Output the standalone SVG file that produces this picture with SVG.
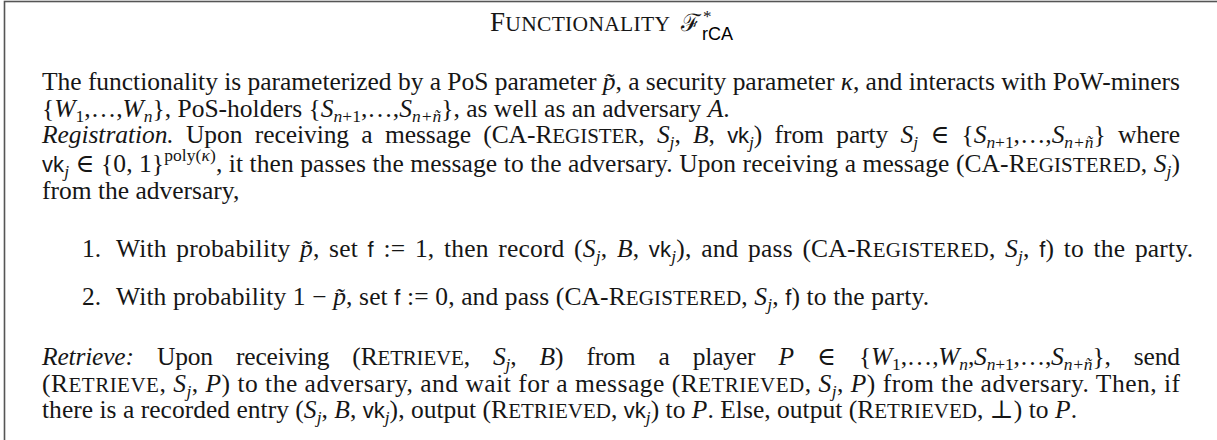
<svg xmlns="http://www.w3.org/2000/svg" width="1217" height="440" viewBox="0 0 1217 440">
<style>
.m{font-family:"Liberation Serif","DejaVu Serif",serif;font-size:25.5px;fill:#161616}
.it{font-style:italic}
.sc{font-size:21px}
.sf{font-family:"Liberation Sans","DejaVu Sans",sans-serif;font-size:22px}
.s{font-size:17.5px}
.ttl{font-family:"Liberation Serif","DejaVu Serif",serif;font-size:27px;fill:#161616}
.tsc{font-size:21.5px}
</style>
<rect x="4.5" y="1.5" width="1300" height="500" fill="#fff" stroke="#555" stroke-width="1.6"/>
<g id="title">
<text class="ttl" x="490" y="31" textLength="180" lengthAdjust="spacing">F<tspan class="tsc">UNCTIONALITY</tspan></text>
<text class="ttl" x="681" y="31" style="font-size:24px">ℱ</text>
<text class="ttl" x="703" y="22" style="font-size:17px">*</text>
<text class="sf" x="702" y="40" style="font-size:18px">rCA</text>
</g>
<g id="intro">
<text class="m" x="42" y="90" textLength="1138" lengthAdjust="spacing">The functionality is parameterized by a PoS parameter <tspan class="it">p̃</tspan>, a security parameter <tspan class="it">κ</tspan>, and interacts with PoW-miners</text>
<text class="m" x="42" y="116.5">{<tspan class="it">W</tspan><tspan class="s" dy="5">1</tspan><tspan dy="-5">,…,</tspan><tspan class="it">W</tspan><tspan class="s it" dy="5">n</tspan><tspan dy="-5">}, PoS-holders {</tspan><tspan class="it">S</tspan><tspan class="s" dy="5"><tspan class="it">n</tspan>+1</tspan><tspan dy="-5">,…,</tspan><tspan class="it">S</tspan><tspan class="s it" dy="5">n+ñ</tspan><tspan dy="-5">}, as well as an adversary </tspan><tspan class="it">A</tspan>.</text>
</g>
<g id="registration">
<text class="m" x="42" y="143" word-spacing="6" textLength="1138" lengthAdjust="spacing"><tspan class="it">Registration.</tspan> Upon receiving a message (CA-R<tspan class="sc">EGISTER</tspan>, <tspan class="it">S</tspan><tspan class="s it" dy="5">j</tspan><tspan dy="-5">, </tspan><tspan class="it">B</tspan>, <tspan class="sf">vk</tspan><tspan class="s it" dy="5">j</tspan><tspan dy="-5">) from party </tspan><tspan class="it">S</tspan><tspan class="s it" dy="5">j</tspan><tspan dy="-5"> ∈ {</tspan><tspan class="it">S</tspan><tspan class="s" dy="5"><tspan class="it">n</tspan>+1</tspan><tspan dy="-5">,…,</tspan><tspan class="it">S</tspan><tspan class="s it" dy="5">n+ñ</tspan><tspan dy="-5">} where</tspan></text>
<text class="m" x="42" y="172" textLength="1138" lengthAdjust="spacing"><tspan class="sf">vk</tspan><tspan class="s it" dy="5">j</tspan><tspan dy="-5"> ∈ {0, 1}</tspan><tspan class="s" dy="-11">poly(<tspan class="it">κ</tspan>)</tspan><tspan dy="11">, it then passes the message to the adversary. Upon receiving a message (CA-R</tspan><tspan class="sc">EGISTERED</tspan>, <tspan class="it">S</tspan><tspan class="s it" dy="5">j</tspan><tspan dy="-5">)</tspan></text>
<text class="m" x="42" y="198.5">from the adversary,</text>
</g>
<g id="item1">
<text class="m" x="82" y="257">1.</text>
<text class="m" x="116" y="257" word-spacing="3" textLength="1077" lengthAdjust="spacing">With probability <tspan class="it">p̃</tspan>, set <tspan class="sf">f</tspan> := 1, then record (<tspan class="it">S</tspan><tspan class="s it" dy="5">j</tspan><tspan dy="-5">, </tspan><tspan class="it">B</tspan>, <tspan class="sf">vk</tspan><tspan class="s it" dy="5">j</tspan><tspan dy="-5">), and pass (CA-R</tspan><tspan class="sc">EGISTERED</tspan>, <tspan class="it">S</tspan><tspan class="s it" dy="5">j</tspan><tspan dy="-5">, </tspan><tspan class="sf">f</tspan>) to the party.</text>
</g>
<g id="item2">
<text class="m" x="82" y="305">2.</text>
<text class="m" x="116" y="305" textLength="813" lengthAdjust="spacing">With probability 1 − <tspan class="it">p̃</tspan>, set <tspan class="sf">f</tspan> := 0, and pass (CA-R<tspan class="sc">EGISTERED</tspan>, <tspan class="it">S</tspan><tspan class="s it" dy="5">j</tspan><tspan dy="-5">, </tspan><tspan class="sf">f</tspan>) to the party.</text>
</g>
<g id="retrieve">
<text class="m" x="42" y="365" word-spacing="17" textLength="1138" lengthAdjust="spacing"><tspan class="it">Retrieve:</tspan> Upon receiving (R<tspan class="sc">ETRIEVE</tspan>, <tspan class="it">S</tspan><tspan class="s it" dy="5">j</tspan><tspan dy="-5">, </tspan><tspan class="it">B</tspan>) from a player <tspan class="it">P</tspan> ∈ {<tspan class="it">W</tspan><tspan class="s" dy="5">1</tspan><tspan dy="-5">,…,</tspan><tspan class="it">W</tspan><tspan class="s it" dy="5">n</tspan><tspan dy="-5">,</tspan><tspan class="it">S</tspan><tspan class="s" dy="5"><tspan class="it">n</tspan>+1</tspan><tspan dy="-5">,…,</tspan><tspan class="it">S</tspan><tspan class="s it" dy="5">n+ñ</tspan><tspan dy="-5">}, send</tspan></text>
<text class="m" x="42" y="392" textLength="1138" lengthAdjust="spacing">(R<tspan class="sc">ETRIEVE</tspan>, <tspan class="it">S</tspan><tspan class="s it" dy="5">j</tspan><tspan dy="-5">, </tspan><tspan class="it">P</tspan>) to the adversary, and wait for a message (R<tspan class="sc">ETRIEVED</tspan>, <tspan class="it">S</tspan><tspan class="s it" dy="5">j</tspan><tspan dy="-5">, </tspan><tspan class="it">P</tspan>) from the adversary.  Then, if</text>
<text class="m" x="42" y="418" textLength="1035" lengthAdjust="spacing">there is a recorded entry (<tspan class="it">S</tspan><tspan class="s it" dy="5">j</tspan><tspan dy="-5">, </tspan><tspan class="it">B</tspan>, <tspan class="sf">vk</tspan><tspan class="s it" dy="5">j</tspan><tspan dy="-5">), output (R</tspan><tspan class="sc">ETRIEVED</tspan>, <tspan class="sf">vk</tspan><tspan class="s it" dy="5">j</tspan><tspan dy="-5">) to </tspan><tspan class="it">P</tspan>. Else, output (R<tspan class="sc">ETRIEVED</tspan>, ⊥) to <tspan class="it">P</tspan>.</text>
</g>
</svg>
